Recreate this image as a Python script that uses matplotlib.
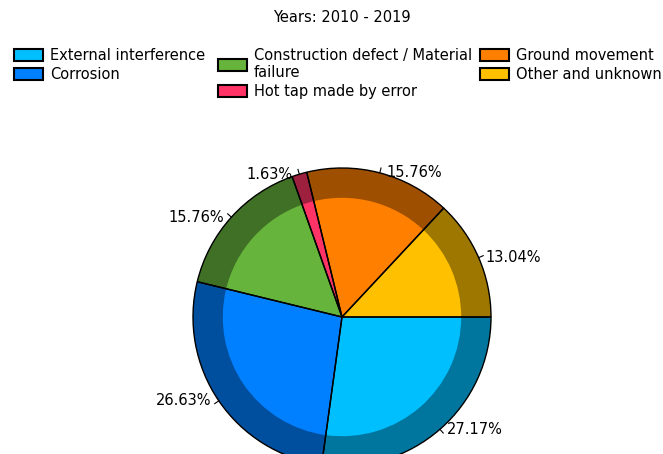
import numpy as np
import matplotlib
matplotlib.use("Agg")
import matplotlib.pyplot as plt
from matplotlib.patches import Patch
from matplotlib.colors import to_rgb

# data
causes = ["External interference", "Corrosion", "Construction defect / Material\nfailure",
          "Hot tap made by error", "Ground movement", "Other and unknown"]
shares = [27.17, 26.63, 15.76, 1.63, 15.76, 13.04]
colors = ["#00BFFF", "#0080FF", "#66B43C", "#FF3366", "#FF8000", "#FFC000"]
title = "Years: 2010 - 2019"

plt.rcParams['font.family'] = ['DejaVu Sans']
fs = 10.5

fig = plt.figure(figsize=(6.63, 4.54), dpi=100)
W, H = 663, 454
cx, cy, r = 342, 317, 149   # pie centre / radius in pixels
ax = fig.add_axes([(cx - r) / W, (H - cy - r) / H, 2 * r / W, 2 * r / H])

dark = [tuple(np.array(to_rgb(c)) * 0.62) for c in colors]

# dark outer ring
wedges, _ = ax.pie(shares, colors=dark, startangle=0, counterclock=False, radius=1,
                   wedgeprops=dict(linewidth=0))
# lighter inside
ax.pie(shares, colors=colors, startangle=0, counterclock=False, radius=0.8,
       wedgeprops=dict(linewidth=0))
# black outlines on top
ax.pie(shares, colors=["none"] * len(shares), startangle=0, counterclock=False, radius=1,
       wedgeprops=dict(linewidth=1, edgecolor="black", fill=False))
ax.set_xlim(-1, 1)
ax.set_ylim(-1, 1)

px = 1 / r  # one pixel in data units
for w, v in zip(wedges, shares):
    ang = np.deg2rad((w.theta1 + w.theta2) / 2)
    x, y = np.cos(ang), np.sin(ang)
    ax.plot([x, x + 5 * px * x], [y, y + 5 * px * y], color="black", lw=0.8,
            clip_on=False)
    side = 1 if x > 0 else -1
    ax.text(x + side * 7 * px, y, f"{v:.2f}%", ha="left" if side > 0 else "right",
            va="center", fontsize=fs, clip_on=False)

fig.text(cx / W, 1 - 17 / H, title, ha="center", va="center", fontsize=fs)

# legend, three columns
handles = [Patch(facecolor=c, edgecolor="black", linewidth=1.5) for c in colors]
cols = [(0, 2, 14), (2, 4, 218), (4, 6, 480)]
for a, b, x0 in cols:
    leg = fig.legend(handles[a:b], causes[a:b], loc="upper left",
                     bbox_to_anchor=(x0 / W, 1 - 48 / H), frameon=False,
                     fontsize=fs, borderpad=0, borderaxespad=0,
                     handlelength=2.0, handleheight=0.9, handletextpad=0.45,
                     labelspacing=0.25)

fig.savefig("out.png", dpi=100)
